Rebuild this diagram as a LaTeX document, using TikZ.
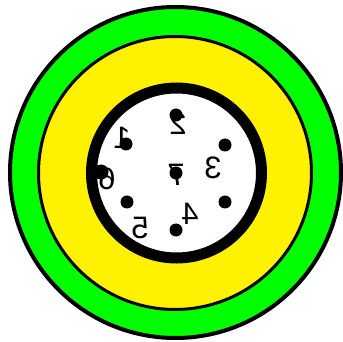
\documentclass[tikz,border=0pt]{standalone}
\usepackage{fontspec}
\setmainfont{Liberation Sans}
\begin{document}
\begin{tikzpicture}[x=1pt,y=-1pt,
  dotmark/.style={circle,fill=black,inner sep=0pt,minimum size=13pt},
  lbl/.style={inner sep=0pt,xscale=-1,font=\fontsize{31}{31}\selectfont}]
\useasboundingbox (0,0) rectangle (343,342);
\fill[green] (175.5,172.5) circle (165.5);
\draw[line width=4pt] (175.5,172.5) circle (165.5);
\fill[yellow] (175,173) circle (136.5);
\draw[line width=3pt] (175,173) circle (136.5);
\fill[white] (176.5,173) circle (85);
\draw[line width=11pt] (176.5,173) circle (85);
\node[dotmark] (d2) at (176,115) {};
\node[dotmark] (d1) at (126,144) {};
\node[dotmark] (d3) at (225,145) {};
\node[dotmark] (d7) at (176,173) {};
\node[dotmark,minimum size=15pt] (d6) at (101,172) {};
\node[dotmark] (d5) at (127,202) {};
\node[dotmark] (d4) at (176,230) {};
\node[dotmark] (d8) at (225,202) {};
\node[lbl] (l1) at (122,138) {1};
\node[lbl] (l2) at (178,124) {2};
\node[lbl] (l3) at (213,168) {3};
\node[lbl] (l7) at (176,175) {7};
\node[lbl] (l6) at (107,179) {6};
\node[lbl] (l5) at (140,228) {5};
\node[lbl] (l4) at (190,214) {4};
\end{tikzpicture}
\end{document}
